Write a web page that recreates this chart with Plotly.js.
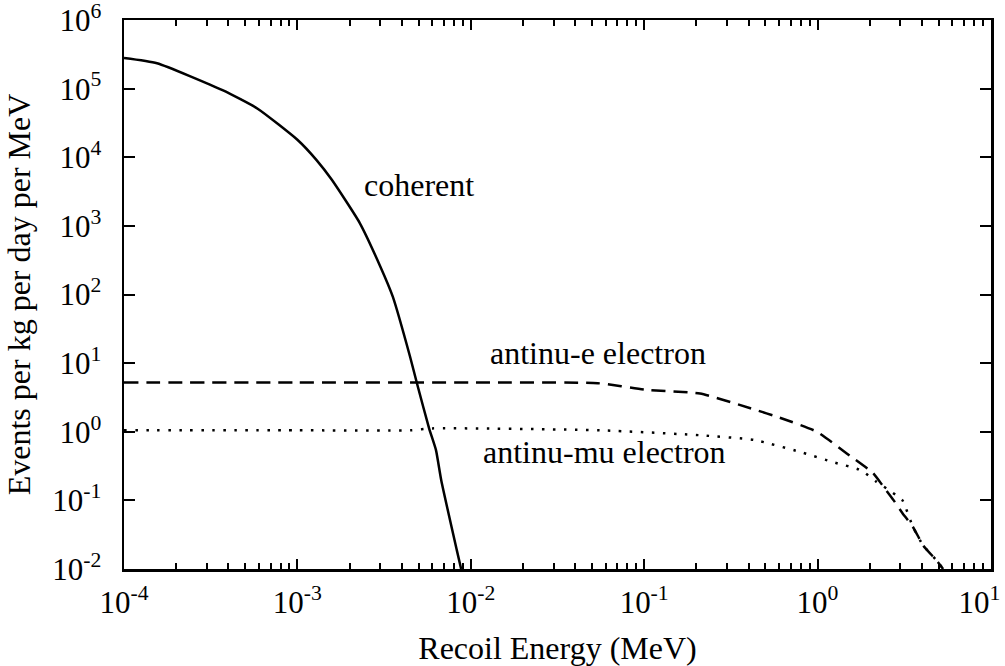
<!DOCTYPE html>
<html>
<head>
<meta charset="utf-8">
<script src="https://cdn.plot.ly/plotly-3.0.1.min.js"></script>
<style>html,body{margin:0;padding:0;background:#fff;}#chart{width:1005px;height:666px;}</style>
</head>
<body>
<div id="chart"></div>
<script>
// Coherent scattering (recoil energy MeV, events per kg per day per MeV)
const coherentE = [1e-4, 1.55e-4, 3.7e-4, 5.9e-4, 1.0e-3, 1.29e-3, 1.58e-3, 2.29e-3, 3.02e-3, 3.55e-3, 4.47e-3, 4.9e-3, 5.75e-3, 6.3e-3, 6.76e-3, 8.3e-3, 8.8e-3];
const coherentV = [2.8e5, 2.35e5, 9.5e4, 5.1e4, 1.8e4, 9.1e3, 4.7e3, 1.1e3, 250, 93, 12.3, 5.0, 1.12, 0.54, 0.195, 0.019, 0.01];

// antinu-e electron scattering
const nueE = [1e-4, 1e-3, 1e-2, 0.054, 0.102, 0.21, 0.41, 0.63, 0.99, 1.48, 2.09, 2.4, 2.75, 3.09, 3.55, 4.07, 4.9, 5.3];
const nueV = [5.2, 5.2, 5.2, 5.1, 4.1, 3.6, 2.2, 1.55, 1.0, 0.48, 0.25, 0.158, 0.1, 0.065, 0.041, 0.022, 0.013, 0.01];

// antinu-mu electron scattering
const numuE = [1e-4, 1e-3, 4.5e-3, 6e-3, 0.056, 0.21, 0.43, 0.79, 1.23, 1.78, 2.19, 2.51, 2.82, 3.09, 3.55, 4.07, 4.9, 5.3];
const numuV = [1.05, 1.05, 1.05, 1.12, 1.05, 0.89, 0.76, 0.51, 0.36, 0.275, 0.186, 0.148, 0.12, 0.1, 0.041, 0.022, 0.013, 0.01];

const yTickVals = [1e-2, 1e-1, 1e0, 1e1, 1e2, 1e3, 1e4, 1e5, 1e6];
const yTickText = ['10<sup>-2</sup>', '10<sup>-1</sup>', '10<sup>0</sup>', '10<sup>1</sup>', '10<sup>2</sup>', '10<sup>3</sup>', '10<sup>4</sup>', '10<sup>5</sup>', '10<sup>6</sup>'];
const xTickVals = [1e-4, 1e-3, 1e-2, 1e-1, 1e0, 1e1];
const xTickText = ['10<sup>-4</sup>', '10<sup>-3</sup>', '10<sup>-2</sup>', '10<sup>-1</sup>', '10<sup>0</sup>', '10<sup>1</sup>&nbsp;&nbsp;&nbsp;'];

const labels = ['coherent', 'antinu-e electron', 'antinu-mu electron'];
const labelX = [5.0e-3, 0.054, 0.059];
const labelY = [3900, 14, 0.5];

const xMinor = [];
for (let d = -4; d < 1; d++) {
  for (let m = 2; m <= 9; m++) xMinor.push(m * Math.pow(10, d));
}

const SERIF = 'Liberation Serif';

const traces = [
  {x: coherentE, y: coherentV, mode: 'lines', line: {color: '#000', width: 2.5, shape: 'spline', smoothing: 0.5}, hoverinfo: 'skip'},
  {x: nueE, y: nueV, mode: 'lines', line: {color: '#000', width: 2.5, dash: '14px,8px', shape: 'spline', smoothing: 0.5}, hoverinfo: 'skip'},
  {x: numuE, y: numuV, mode: 'lines', line: {color: '#000', width: 2.5, dash: '2.5px,8.5px', shape: 'spline', smoothing: 0.5}, hoverinfo: 'skip'}
];

const layout = {
  width: 1005, height: 666,
  margin: {l: 124, r: 14, t: 20, b: 97},
  paper_bgcolor: '#fff', plot_bgcolor: '#fff',
  showlegend: false,
  xaxis: {
    type: 'log', range: [-4, 1.0004],
    tickmode: 'array', tickvals: xTickVals, ticktext: xTickText,
    ticks: 'inside', ticklen: 10, tickwidth: 2, tickcolor: '#000',
    minor: {tickmode: 'array', tickvals: xMinor, ticks: 'inside', ticklen: 6, tickwidth: 2, tickcolor: '#000', showgrid: false},
    showline: true, linewidth: 2.5, linecolor: '#000', mirror: 'ticks',
    showgrid: false, zeroline: false,
    tickfont: {family: SERIF, size: 31, color: '#000'},
    ticklabelstandoff: 4,
    ticklabeloverflow: 'allow',
    title: {text: 'Recoil Energy (MeV)', font: {family: SERIF, size: 32, color: '#000'}, standoff: 18},
    automargin: false
  },
  yaxis: {
    type: 'log', range: [-2, 6.0004],
    tickmode: 'array', tickvals: yTickVals, ticktext: yTickText,
    ticks: 'inside', ticklen: 11, tickwidth: 2, tickcolor: '#000',
    showline: true, linewidth: 2.5, linecolor: '#000', mirror: 'ticks',
    showgrid: false, zeroline: false,
    tickfont: {family: SERIF, size: 31, color: '#000'},
    ticklabelstandoff: 14,
    ticklabeloverflow: 'allow',
    title: {text: 'Events per kg per day per MeV', font: {family: SERIF, size: 32, color: '#000'}, standoff: 12},
    automargin: false
  },
  annotations: labels.map((t, i) => ({
    x: Math.log10(labelX[i]), y: Math.log10(labelY[i]), xref: 'x', yref: 'y',
    text: t, showarrow: false, font: {family: SERIF, size: 32, color: '#000'},
    xanchor: 'center', yanchor: 'middle'
  }))
};

Plotly.newPlot('chart', traces, layout, {staticPlot: true});
</script>
</body>
</html>
